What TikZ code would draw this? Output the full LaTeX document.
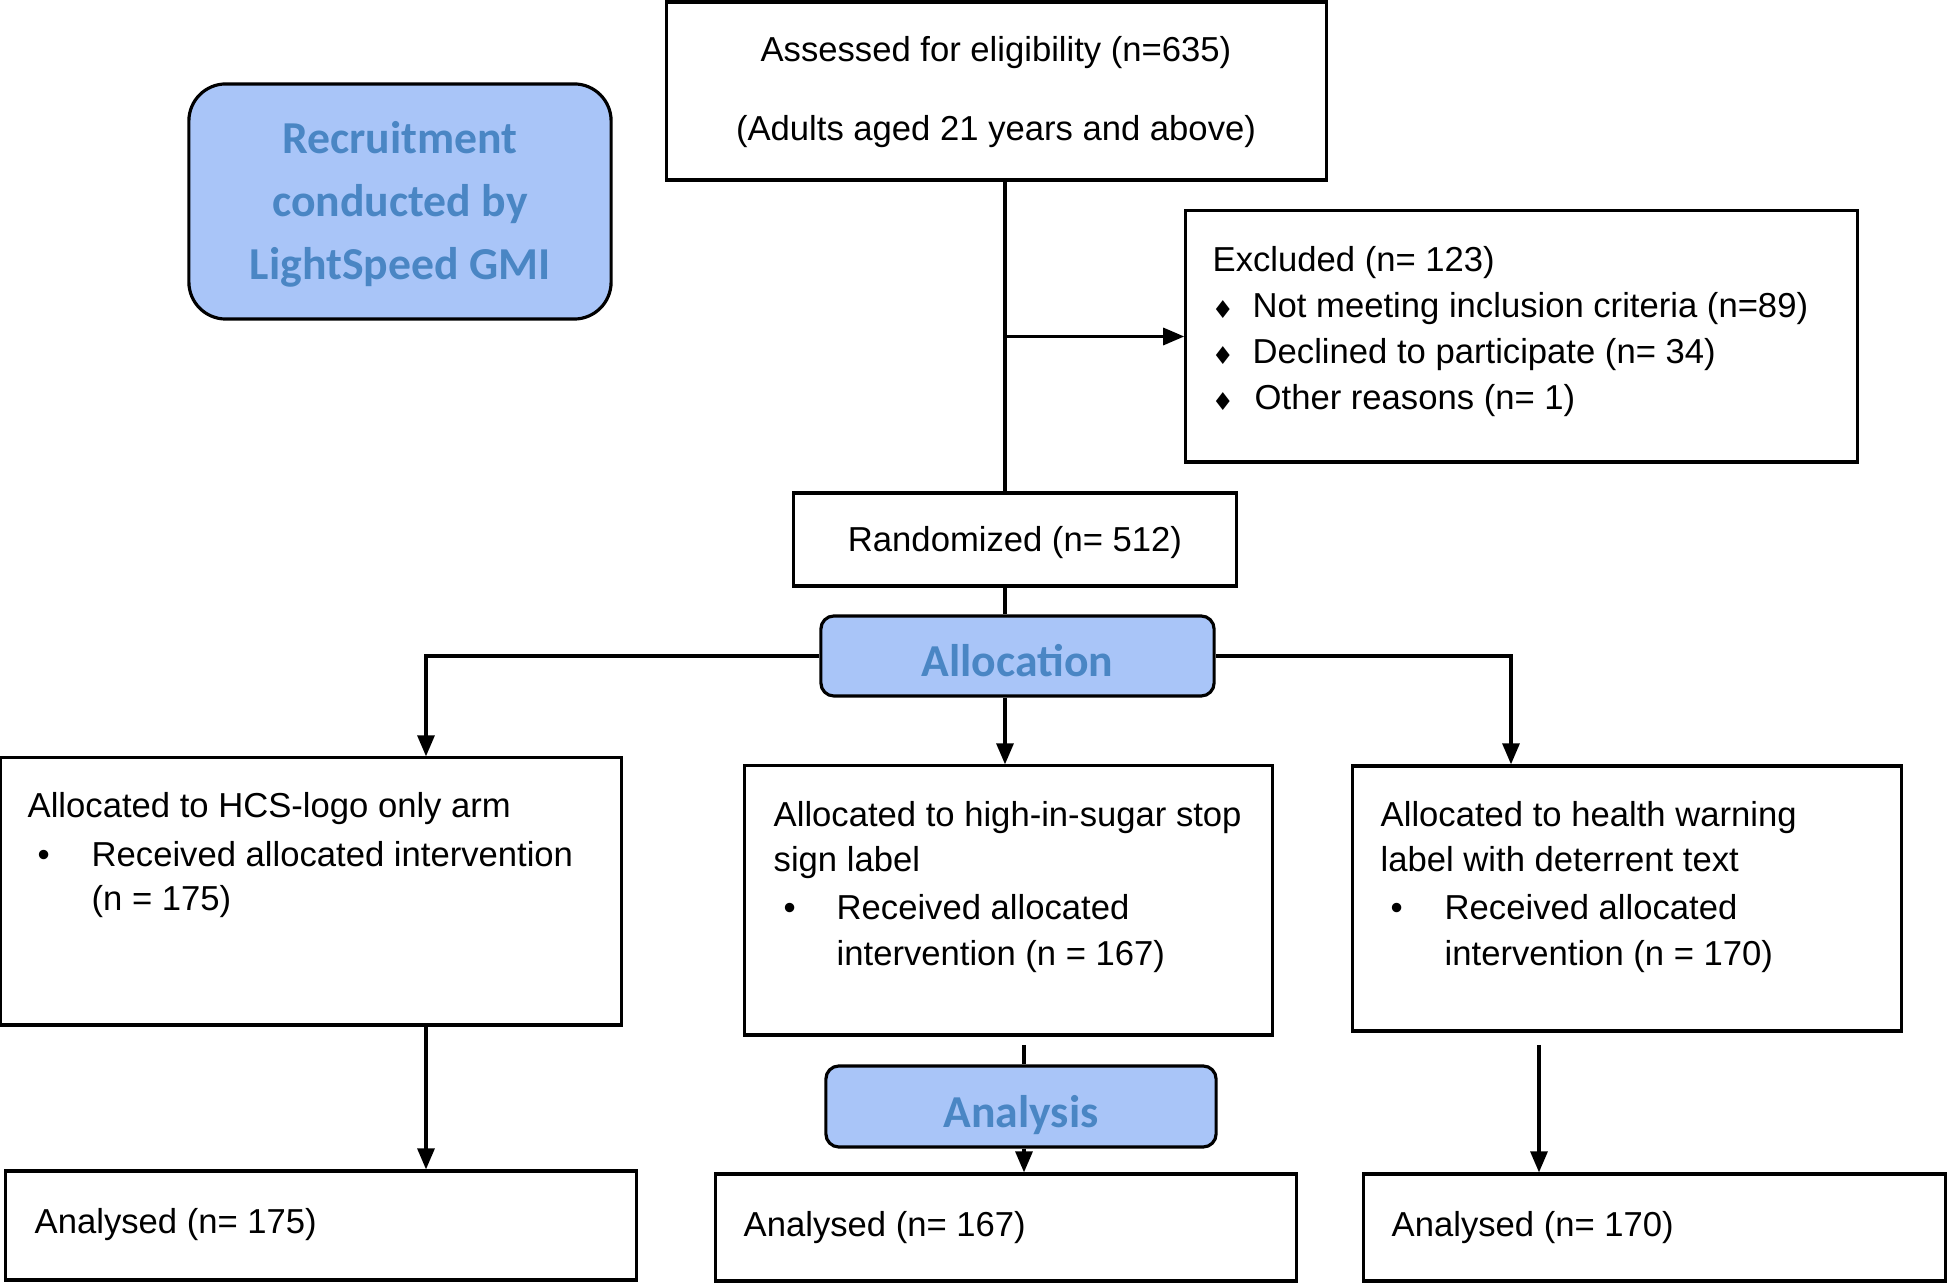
\documentclass[tikz,border=0pt]{standalone}
\usepackage{fontspec}
\setmainfont{Liberation Sans}
\newfontfamily\carlito{Carlito}
\newfontfamily\dejavu{DejaVu Sans}
\usetikzlibrary{arrows.meta}
\definecolor{bluefill}{RGB}{169,197,248}
\definecolor{bluetext}{RGB}{74,134,196}
\tikzset{
  box/.style={draw, line width=0.9pt, rectangle, inner sep=0pt},
  bluebox/.style={draw, line width=0.9pt, fill=bluefill, rectangle, rounded corners=0.13cm, inner sep=0pt},
  bluelabel/.style={text=bluetext, font=\carlito\bfseries\fontsize{13}{17.9}\selectfont, align=center, inner sep=0pt, anchor=center},
  txt/.style={anchor=base west, inner sep=0pt, font=\fontsize{9.85}{12}\selectfont},
  ctxt/.style={anchor=base, inner sep=0pt, font=\fontsize{9.85}{12}\selectfont},
  dia/.style={anchor=center, inner sep=0pt, font=\dejavu\fontsize{7}{7}\selectfont},
  conn/.style={line width=0.9pt},
  arr/.style={line width=0.9pt, -{Triangle[length=2.1mm,width=1.7mm]}}
}
\begin{document}
\begin{tikzpicture}[x=0.01cm,y=-0.01cm]
\useasboundingbox (0,0) rectangle (1948,1283);
% boxes
\node[box, minimum width=6.59cm, minimum height=1.78cm] (assess) at (996.5,91) {};
\node[bluebox, rounded corners=0.37cm, minimum width=4.22cm, minimum height=2.35cm] (recruit) at (400,201.5) {};
\node[box, minimum width=6.71cm, minimum height=2.51cm] (excl) at (1521.5,336.5) {};
\node[box, minimum width=4.42cm, minimum height=0.93cm] (rand) at (1015,539.5) {};
\node[bluebox, minimum width=3.93cm, minimum height=0.80cm] (alloc) at (1017.5,656) {};
\node[box, minimum width=6.20cm, minimum height=2.67cm] (leftbox) at (311,891.5) {};
\node[box, minimum width=5.27cm, minimum height=2.69cm] (midbox) at (1008.5,900.5) {};
\node[box, minimum width=5.48cm, minimum height=2.65cm] (rightbox) at (1627,898.5) {};
\node[bluebox, minimum width=3.90cm, minimum height=0.81cm] (analysis) at (1021,1106.5) {};
\node[box, minimum width=6.30cm, minimum height=1.09cm] (botleft) at (321,1225.5) {};
\node[box, minimum width=5.80cm, minimum height=1.07cm] (botmid) at (1006,1227.5) {};
\node[box, minimum width=5.81cm, minimum height=1.07cm] (botright) at (1654.5,1227.5) {};
% blue labels
\node[bluelabel] (recruitT) at ([yshift=-0.03cm]recruit.center) {Recruitment\\conducted by\\LightSpeed GMI};
\node[bluelabel] (allocT) at ([yshift=-0.05cm]alloc.center) {Allocation};
\node[bluelabel] (analysisT) at ([yshift=-0.085cm]analysis.center) {Analysis};
% texts
\node[ctxt] (a1) at (996,62) {Assessed for eligibility (n=635)};
\node[ctxt] (a2) at (996,141) {(Adults aged 21 years and above)};
\node[ctxt] (randT) at (1015,552) {Randomized (n= 512)};
\node[txt] (e0) at (1212,272) {Excluded (n= 123)};
\node[dia] (d1) at (1223,310) {♦};
\node[txt] (e1) at (1252,318) {Not meeting inclusion criteria (n=89)};
\node[dia] (d2) at (1223,356) {♦};
\node[txt] (e2) at (1252,364) {Declined to participate (n= 34)};
\node[dia] (d3) at (1223,402) {♦};
\node[txt] (e3) at (1254,410) {Other reasons (n= 1)};
\node[txt] (l1) at (27,818) {Allocated to HCS-logo only arm};
\node[txt] (lb1) at (37,867) {•};
\node[txt] (l2) at (91,867) {Received allocated intervention};
\node[txt] (l3) at (91,911) {(n = 175)};
\node[txt] (m1) at (773,827) {Allocated to high-in-sugar stop};
\node[txt] (m2) at (773,872) {sign label};
\node[txt] (mb1) at (783,920) {•};
\node[txt] (m3) at (836,920) {Received allocated};
\node[txt] (m4) at (836,966) {intervention (n = 167)};
\node[txt] (r1t) at (1380,827) {Allocated to health warning};
\node[txt] (r2t) at (1380,872) {label with deterrent text};
\node[txt] (rb1) at (1390,920) {•};
\node[txt] (r3t) at (1444,920) {Received allocated};
\node[txt] (r4t) at (1444,966) {intervention (n = 170)};
\node[txt] (b1) at (34,1233) {Analysed (n= 175)};
\node[txt] (b2) at (743,1236) {Analysed (n= 167)};
\node[txt] (b3) at (1391,1236) {Analysed (n= 170)};
% connectors
\coordinate (sp) at (1005,0);
\coordinate (lbx) at (426,0);
\coordinate (rbx) at (1511,0);
\coordinate (mbx) at (1024,1045);
\coordinate (rr) at (1539,1045);
\draw[conn] (assess.south -| sp) -- (rand.north -| sp);
\draw[arr] (sp |- excl.west) -- (excl.west);
\draw[conn] (rand.south -| sp) -- (alloc.north -| sp);
\draw[arr] (alloc.south -| sp) -- (midbox.north -| sp);
\draw[arr] (alloc.west) -| (leftbox.north -| lbx);
\draw[arr] (alloc.east) -| (rightbox.north -| rbx);
\draw[arr] (leftbox.south -| lbx) -- (botleft.north -| lbx);
\draw[conn] (mbx) -- (analysis.north -| mbx);
\draw[arr] (analysis.south -| mbx) -- (botmid.north -| mbx);
\draw[arr] (rr) -- (botright.north -| rr);
\end{tikzpicture}
\end{document}
